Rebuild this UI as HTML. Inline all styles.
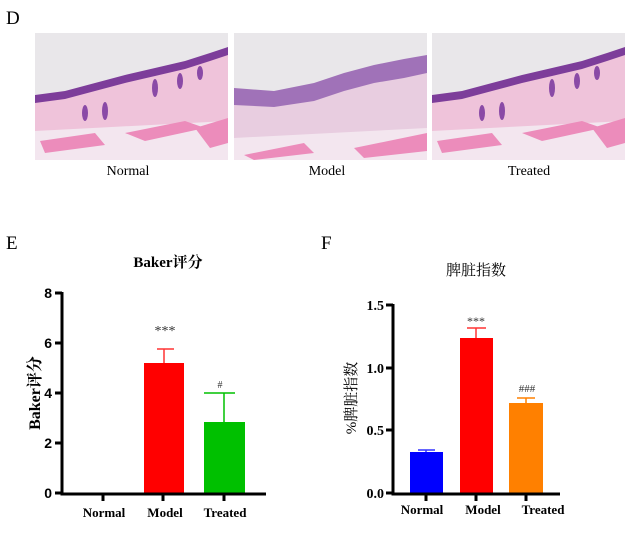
<!DOCTYPE html>
<html><head><meta charset="utf-8"><style>
body{margin:0;background:#fff;width:632px;height:540px;overflow:hidden;position:relative;font-family:"Liberation Serif","Noto Serif CJK SC",serif}
.a{position:absolute}
</style></head><body>
<div class="a" style="left:6px;top:8px;font-size:19px">D</div>
<svg class="a" style="left:0;top:0" width="632" height="540" xmlns="http://www.w3.org/2000/svg">
<defs>
<g id="hist">
<rect width="193" height="127" fill="#e9e7ea"/>
<polygon points="0,62 30,58 60,50 90,42 120,35 150,28 175,20 193,14 193,127 0,127" fill="#7d3d9a"/>
<polygon points="0,70 30,66 60,58 90,50 120,43 150,36 175,28 193,22 193,127 0,127" fill="#efc3da"/>
<polygon points="0,98 193,88 193,127 0,127" fill="#f3e6ef"/>
<polygon points="5,108 60,100 70,112 10,120" fill="#ec8cbb"/>
<polygon points="90,100 150,88 170,95 110,108" fill="#ec8cbb"/>
<polygon points="160,95 193,85 193,110 175,115" fill="#ec8cbb"/>
<g fill="#8a4aa6"><ellipse cx="50" cy="80" rx="3" ry="8"/><ellipse cx="70" cy="78" rx="3" ry="9"/><ellipse cx="120" cy="55" rx="3" ry="9"/><ellipse cx="145" cy="48" rx="3" ry="8"/><ellipse cx="165" cy="40" rx="3" ry="7"/></g>
</g>
<g id="histm">
<rect width="193" height="127" fill="#e9e7ea"/>
<polygon points="0,55 40,58 80,50 110,40 140,32 170,26 193,22 193,127 0,127" fill="#a072b8"/>
<polygon points="0,72 40,74 80,68 110,58 140,50 170,45 193,40 193,127 0,127" fill="#e8cde0"/>
<polygon points="0,105 193,95 193,127 0,127" fill="#f3e6ef"/>
<polygon points="10,122 70,110 80,120 20,127" fill="#ec8cbb"/>
<polygon points="120,115 193,100 193,118 130,125" fill="#ec8cbb"/>
</g>
</defs>
<use href="#hist" x="35" y="33"/>
<use href="#histm" x="234" y="33"/>
<use href="#hist" x="432" y="33"/>
<g font-size="14" text-anchor="middle" fill="#000">
<text x="128" y="175">Normal</text><text x="327" y="175">Model</text><text x="529" y="175">Treated</text>
</g>
<text x="6" y="249" font-size="19">E</text>
<text x="321" y="249" font-size="19">F</text>

<!-- Chart E -->
<text x="168" y="267" font-size="15" font-weight="bold" text-anchor="middle">Baker评分</text>
<rect x="144" y="363" width="40" height="130" fill="#ff0000"/>
<rect x="204" y="422" width="41" height="71" fill="#00c000"/>
<g stroke-width="1.5"><path d="M164,363V349M157,349H174" stroke="#ff3333"/><path d="M224,422V393M204,393H235" stroke="#00c000"/></g>
<g stroke="#000" stroke-width="3" fill="none"><path d="M62,292V494H266"/><path d="M103,493V501M163,493V501M224,493V501M55,293H62M55,343H62M55,393H62M55,443H62M55,493H62"/></g>
<g font-family="Liberation Sans,sans-serif" font-weight="bold" font-size="14" text-anchor="end"><text x="52" y="298">8</text><text x="52" y="348">6</text><text x="52" y="398">4</text><text x="52" y="448">2</text><text x="52" y="498">0</text></g>
<text x="165" y="335" font-size="14" fill="#333" text-anchor="middle">***</text>
<text x="220" y="388" font-size="10" fill="#333" text-anchor="middle">#</text>
<text transform="translate(40,393) rotate(-90)" font-size="16" font-weight="bold" text-anchor="middle">Baker评分</text>
<g font-size="13" font-weight="bold" text-anchor="middle"><text x="104" y="517">Normal</text><text x="165" y="517">Model</text><text x="225" y="517">Treated</text></g>

<!-- Chart F -->
<text x="476" y="275" font-size="15" text-anchor="middle">脾脏指数</text>
<rect x="410" y="452" width="33" height="41" fill="#0000ff"/>
<rect x="460" y="338" width="33" height="155" fill="#ff0000"/>
<rect x="509" y="403" width="34" height="90" fill="#ff8000"/>
<g stroke-width="1.5"><path d="M426,452V450M418,450H435" stroke="#3333ff"/><path d="M476,338V328M467,328H486" stroke="#ff3333"/><path d="M526,403V398M517,398H535" stroke="#ff8000"/></g>
<g stroke="#000" stroke-width="3" fill="none"><path d="M393,304V494H560"/><path d="M426,493V501M476,493V501M526,493V501M386,305H393M386,368H393M386,430H393M386,493H393"/></g>
<g font-weight="bold" font-size="14" text-anchor="end"><text x="384" y="310">1.5</text><text x="384" y="373">1.0</text><text x="384" y="435">0.5</text><text x="384" y="498">0.0</text></g>
<text x="476" y="325" font-size="12" fill="#333" text-anchor="middle">***</text>
<text x="527" y="392" font-size="11" fill="#333" text-anchor="middle">###</text>
<text transform="translate(356,398) rotate(-90)" font-size="15" text-anchor="middle">%脾脏指数</text>
<g font-size="13" font-weight="bold" text-anchor="middle"><text x="422" y="514">Normal</text><text x="483" y="514">Model</text><text x="543" y="514">Treated</text></g>
</svg>
</body></html>
